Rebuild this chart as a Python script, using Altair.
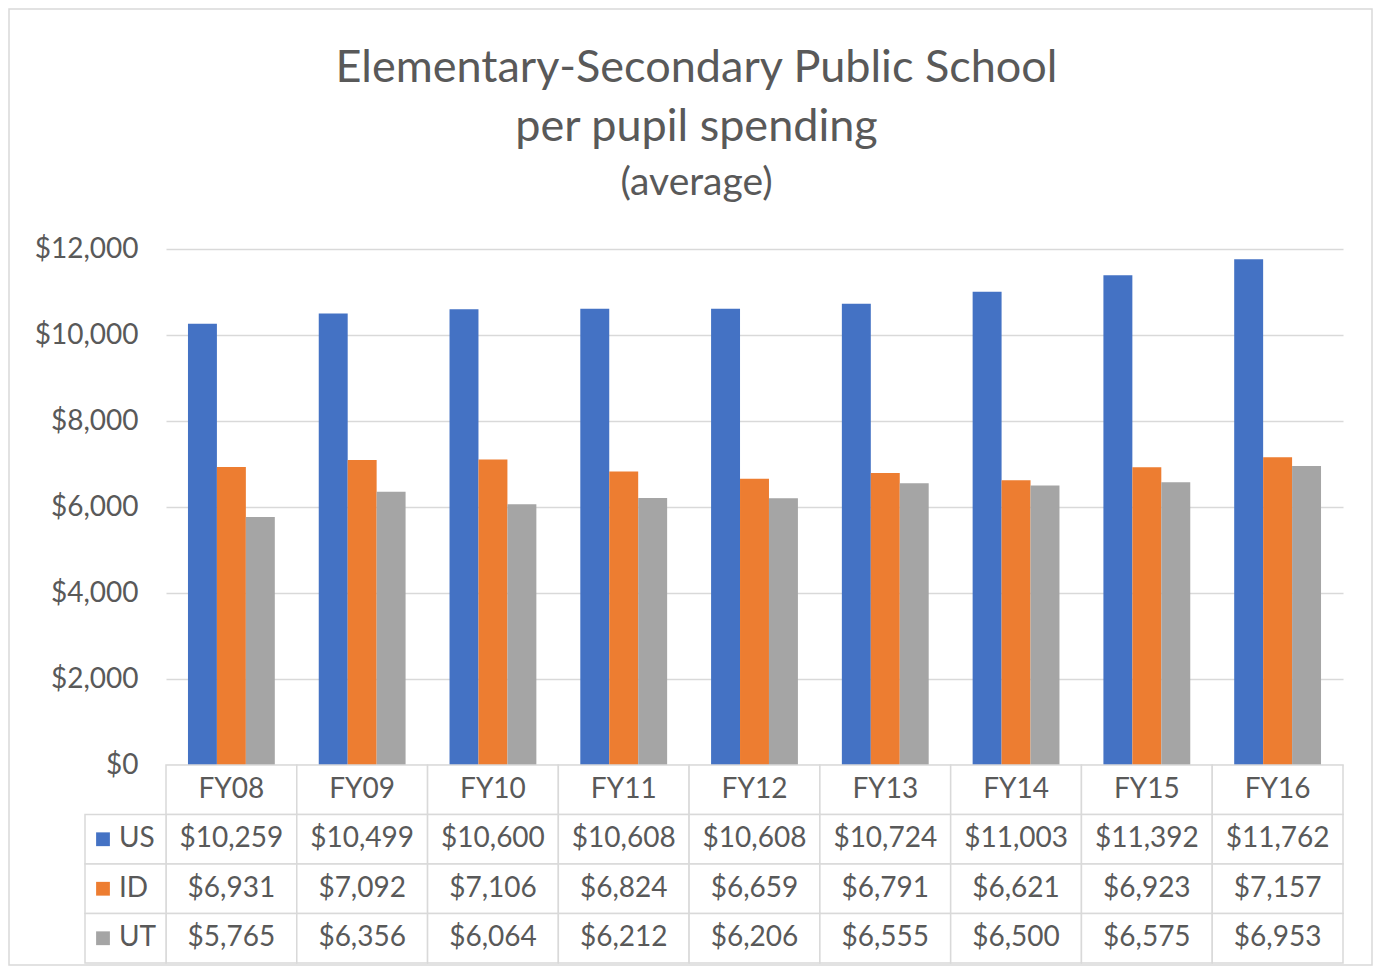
import altair as alt
import pandas as pd

years = ["FY08", "FY09", "FY10", "FY11", "FY12", "FY13", "FY14", "FY15", "FY16"]
series = ["US", "ID", "UT"]
us_values = [10259, 10499, 10600, 10608, 10608, 10724, 11003, 11392, 11762]
id_values = [6931, 7092, 7106, 6824, 6659, 6791, 6621, 6923, 7157]
ut_values = [5765, 6356, 6064, 6212, 6206, 6555, 6500, 6575, 6953]
colors = ["#4472C4", "#ED7D31", "#A5A5A5"]
y_ticks = [0, 2000, 4000, 6000, 8000, 10000, 12000]

rows = []
for s, vals in zip(series, [us_values, id_values, ut_values]):
    for yr, v in zip(years, vals):
        rows.append({"year": yr, "series": s, "value": v, "label": f"${v:,}"})
df = pd.DataFrame(rows)
hdr = pd.DataFrame({"year": years, "series": ["hdr"] * len(years), "label": years})
table = pd.concat([hdr, df[["year", "series", "label"]]], ignore_index=True)
legend_df = pd.DataFrame({"series": series})
frame_df = pd.DataFrame({"k": [0]})

W, H_BARS, H = 1177, 516, 714
FONT = "Lato"
TXT = "#595959"
GRID = "#D9D9D9"

color = alt.Color("series:N", scale=alt.Scale(domain=series, range=colors), legend=None)

bars = alt.Chart(df).mark_bar().encode(
    x=alt.X("year:N", sort=years, axis=None,
            scale=alt.Scale(paddingInner=0.336, paddingOuter=0.168)),
    xOffset=alt.XOffset("series:N", sort=series, scale=alt.Scale(domain=series)),
    y=alt.Y("value:Q",
            scale=alt.Scale(domain=[0, 12000], range=[H_BARS, 0], nice=False),
            axis=alt.Axis(values=y_ticks, format="$,.0f", grid=True, gridColor=GRID,
                          gridWidth=1.5, domain=False, ticks=False, labelPadding=28,
                          labelFont=FONT, labelFontSize=28, labelColor=TXT, title=None)),
    color=color,
)

row_scale = alt.Scale(domain=["hdr"] + series, range=[H_BARS, H], paddingInner=0, paddingOuter=0)
col_x = alt.X("year:N", sort=years, axis=None, scale=alt.Scale(paddingInner=0, paddingOuter=0))
row_y = alt.Y("series:N", scale=row_scale, axis=None)

cells = alt.Chart(table).mark_rect(fill="white", stroke=GRID, strokeWidth=1.5).encode(
    x=col_x, y=row_y)
cell_text = alt.Chart(table).mark_text(font=FONT, fontSize=28, color=TXT).encode(
    x=col_x, y=row_y, text="label:N")

leg_cells = alt.Chart(legend_df).mark_rect(fill="white", stroke=GRID, strokeWidth=1.5).encode(
    x=alt.value(-81), x2=alt.value(0), y=row_y)
leg_sq = alt.Chart(legend_df).mark_square(size=190, opacity=1).encode(
    x=alt.value(-63), y=row_y, color=color)
leg_text = alt.Chart(legend_df).mark_text(font=FONT, fontSize=28, color=TXT, align="left").encode(
    x=alt.value(-47), y=row_y, text="series:N")

frame = alt.Chart(frame_df).mark_rect(fillOpacity=0, stroke=GRID, strokeWidth=1.5).encode(
    x=alt.value(-157), x2=alt.value(1206), y=alt.value(-240), y2=alt.value(716))

table_layer = alt.layer(cells, cell_text, leg_cells, leg_sq, leg_text)

chart = alt.layer(frame, bars, table_layer).resolve_scale(
    x="independent", y="independent"
).properties(
    width=W, height=H,
    title=alt.TitleParams(
        text=["Elementary-Secondary Public School", "per pupil spending"],
        subtitle="(average)",
        anchor="middle", frame="group", dx=-58, offset=-195,
        font=FONT, fontSize=45, fontWeight="normal", color=TXT, lineHeight=59,
        subtitleFont=FONT, subtitleFontSize=39, subtitleColor=TXT, subtitlePadding=14,
    ),
    padding=0,
).configure_view(stroke=None)

chart.save("out.html", embed_options={"renderer": "svg", "actions": False})
